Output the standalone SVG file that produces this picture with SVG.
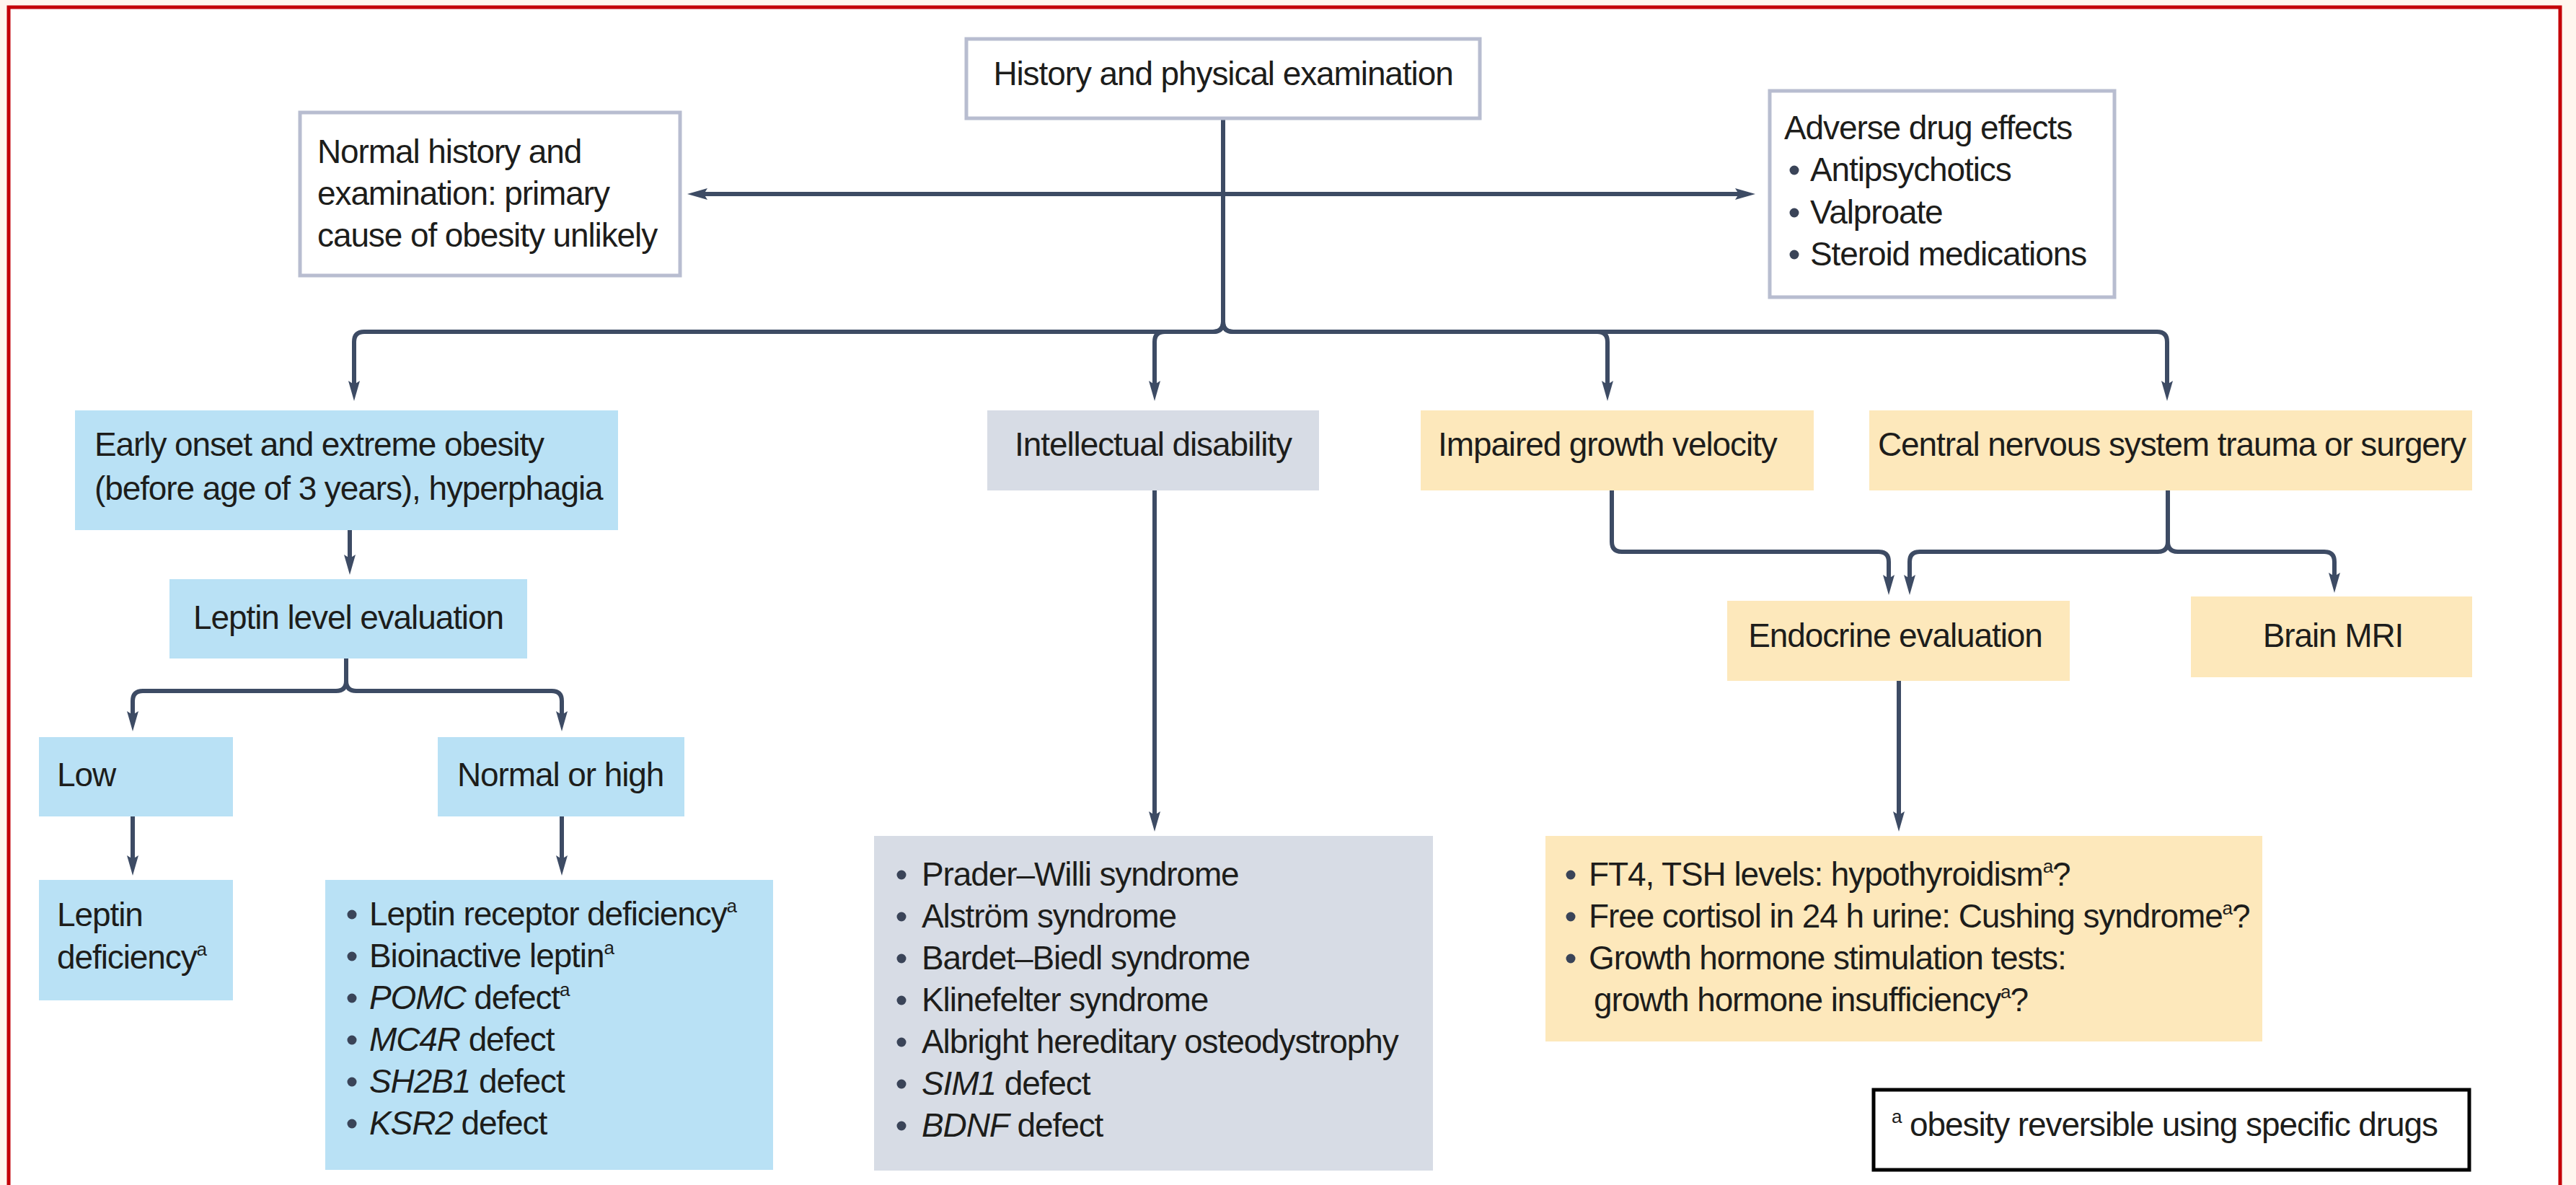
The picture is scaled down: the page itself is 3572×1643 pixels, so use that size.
<svg xmlns="http://www.w3.org/2000/svg" width="3572" height="1643" viewBox="0 0 3572 1643">
  <style>
    .t { font-family: "Liberation Sans", Arial, sans-serif; font-size: 46px; letter-spacing: -1.1px; fill: #1d1d1b; }
    .c { text-anchor: middle; }
    .i { font-style: italic; }
    .sup { font-size: 26px; }
    .plain { fill: #ffffff; stroke: #b8bdd0; stroke-width: 5; }
    .blue { fill: #b9e1f5; }
    .grey { fill: #d7dce5; }
    .amber { fill: #fde8bb; }
    .legend { fill: #ffffff; stroke: #000000; stroke-width: 5; }
    .dot { fill: #3a4458; }
    .link { fill: none; stroke: #3d4b64; stroke-width: 6; marker-end: url(#ah); }
    .link.two { marker-start: url(#ah); }
    .trunk { fill: none; stroke: #3d4b64; stroke-width: 6; }
  </style>
  <defs>
    <marker id="ah" markerUnits="userSpaceOnUse" viewBox="0 0 28 18" refX="8" refY="9" markerWidth="28" markerHeight="18" orient="auto-start-reverse">
      <path d="M0,1 L28,9 L0,17 L5,9 Z" fill="#3d4b64"/>
    </marker>
  </defs>

  <!-- page and frame -->
  <rect x="0" y="0" width="3572" height="1643" fill="#fff6ef"/>
  <rect x="12" y="10" width="3538" height="1700" fill="#ffffff" stroke="#c40008" stroke-width="5"/>

  <!-- connectors -->
  <g id="connectors">
    <path class="trunk" d="M1696,164 V446"/>
    <path class="link two" d="M973,269 H2414"/>
    <path class="link" d="M1696,446 Q1696,460 1682,460 H505 Q491,460 491,474 V536"/>
    <path class="link" d="M1696,446 Q1696,460 1682,460 H1615 Q1601,460 1601,474 V536"/>
    <path class="link" d="M1696,446 Q1696,460 1710,460 H2215 Q2229,460 2229,474 V536"/>
    <path class="link" d="M1696,446 Q1696,460 1710,460 H2991 Q3005,460 3005,474 V536"/>
    <path class="link" d="M485,735 V777"/>
    <path class="link" d="M480,913 V944 Q480,958 466,958 H198 Q184,958 184,972 V994"/>
    <path class="link" d="M480,944 Q480,958 494,958 H765 Q779,958 779,972 V994"/>
    <path class="link" d="M184,1132 V1194"/>
    <path class="link" d="M779,1132 V1194"/>
    <path class="link" d="M1601,680 V1133"/>
    <path class="link" d="M2235,680 V751 Q2235,765 2249,765 H2605 Q2619,765 2619,779 V805"/>
    <path class="link" d="M3006,680 V751 Q3006,765 2992,765 H2662 Q2648,765 2648,779 V805"/>
    <path class="link" d="M3006,751 Q3006,765 3020,765 H3223 Q3237,765 3237,779 V802"/>
    <path class="link" d="M2633,944 V1133"/>
  </g>

  <g id="history">
    <rect class="plain" x="1340" y="54" width="712" height="110"/>
    <text class="t c" x="1696" y="118">History and physical examination</text>
  </g>

  <g id="normal-history">
    <rect class="plain" x="416" y="156" width="527" height="226"/>
    <text class="t" x="440" y="226">Normal history and</text>
    <text class="t" x="440" y="284">examination: primary</text>
    <text class="t" x="440" y="342">cause of obesity unlikely</text>
  </g>

  <g id="adverse-drugs">
    <rect class="plain" x="2454" y="126" width="478" height="286"/>
    <text class="t" x="2474" y="193">Adverse drug effects</text>
    <circle class="dot" cx="2488" cy="236" r="6.5"/>
    <text class="t" x="2510" y="251">Antipsychotics</text>
    <circle class="dot" cx="2488" cy="295" r="6.5"/>
    <text class="t" x="2510" y="310">Valproate</text>
    <circle class="dot" cx="2488" cy="353" r="6.5"/>
    <text class="t" x="2510" y="368">Steroid medications</text>
  </g>

  <g id="early-onset">
    <rect class="blue" x="104" y="569" width="753" height="166"/>
    <text class="t" x="131" y="632">Early onset and extreme obesity</text>
    <text class="t" x="131" y="693">(before age of 3 years), hyperphagia</text>
  </g>

  <g id="intellectual">
    <rect class="grey" x="1369" y="569" width="460" height="111"/>
    <text class="t c" x="1599" y="632">Intellectual disability</text>
  </g>

  <g id="growth">
    <rect class="amber" x="1970" y="569" width="545" height="111"/>
    <text class="t" x="1994" y="632">Impaired growth velocity</text>
  </g>

  <g id="cns">
    <rect class="amber" x="2592" y="569" width="836" height="111"/>
    <text class="t" x="2604" y="632">Central nervous system trauma or surgery</text>
  </g>

  <g id="leptin-level">
    <rect class="blue" x="235" y="803" width="496" height="110"/>
    <text class="t c" x="483" y="872">Leptin level evaluation</text>
  </g>

  <g id="endocrine">
    <rect class="amber" x="2395" y="833" width="475" height="111"/>
    <text class="t c" x="2628" y="897">Endocrine evaluation</text>
  </g>

  <g id="brain-mri">
    <rect class="amber" x="3038" y="827" width="390" height="112"/>
    <text class="t c" x="3235" y="897">Brain MRI</text>
  </g>

  <g id="low">
    <rect class="blue" x="54" y="1022" width="269" height="110"/>
    <text class="t" x="79" y="1090">Low</text>
  </g>

  <g id="normal-high">
    <rect class="blue" x="607" y="1022" width="342" height="110"/>
    <text class="t" x="634" y="1090">Normal or high</text>
  </g>

  <g id="leptin-deficiency">
    <rect class="blue" x="54" y="1220" width="269" height="167"/>
    <text class="t" x="79" y="1284">Leptin</text>
    <text class="t" x="79" y="1343">deficiency<tspan class="sup" dy="-18">a</tspan></text>
  </g>

  <g id="receptor-list">
    <rect class="blue" x="451" y="1220" width="621" height="402"/>
    <circle class="dot" cx="488" cy="1268" r="6.5"/>
    <text class="t" x="512" y="1283">Leptin receptor deficiency<tspan class="sup" dy="-18">a</tspan></text>
    <circle class="dot" cx="488" cy="1326" r="6.5"/>
    <text class="t" x="512" y="1341">Bioinactive leptin<tspan class="sup" dy="-18">a</tspan></text>
    <circle class="dot" cx="488" cy="1384" r="6.5"/>
    <text class="t" x="512" y="1399"><tspan class="i">POMC</tspan> defect<tspan class="sup" dy="-18">a</tspan></text>
    <circle class="dot" cx="488" cy="1442" r="6.5"/>
    <text class="t" x="512" y="1457"><tspan class="i">MC4R</tspan> defect</text>
    <circle class="dot" cx="488" cy="1500" r="6.5"/>
    <text class="t" x="512" y="1515"><tspan class="i">SH2B1</tspan> defect</text>
    <circle class="dot" cx="488" cy="1558" r="6.5"/>
    <text class="t" x="512" y="1573"><tspan class="i">KSR2</tspan> defect</text>
  </g>

  <g id="syndrome-list">
    <rect class="grey" x="1212" y="1159" width="775" height="464"/>
    <circle class="dot" cx="1250" cy="1213" r="6.5"/>
    <text class="t" x="1278" y="1228">Prader–Willi syndrome</text>
    <circle class="dot" cx="1250" cy="1271" r="6.5"/>
    <text class="t" x="1278" y="1286">Alström syndrome</text>
    <circle class="dot" cx="1250" cy="1329" r="6.5"/>
    <text class="t" x="1278" y="1344">Bardet–Biedl syndrome</text>
    <circle class="dot" cx="1250" cy="1387" r="6.5"/>
    <text class="t" x="1278" y="1402">Klinefelter syndrome</text>
    <circle class="dot" cx="1250" cy="1445" r="6.5"/>
    <text class="t" x="1278" y="1460">Albright hereditary osteodystrophy</text>
    <circle class="dot" cx="1250" cy="1503" r="6.5"/>
    <text class="t" x="1278" y="1518"><tspan class="i">SIM1</tspan> defect</text>
    <circle class="dot" cx="1250" cy="1561" r="6.5"/>
    <text class="t" x="1278" y="1576"><tspan class="i">BDNF</tspan> defect</text>
  </g>

  <g id="endocrine-tests">
    <rect class="amber" x="2143" y="1159" width="994" height="285"/>
    <circle class="dot" cx="2178" cy="1213" r="6.5"/>
    <text class="t" x="2203" y="1228">FT4, TSH levels: hypothyroidism<tspan class="sup" dy="-18">a</tspan><tspan dy="18">?</tspan></text>
    <circle class="dot" cx="2178" cy="1271" r="6.5"/>
    <text class="t" x="2203" y="1286">Free cortisol in 24 h urine: Cushing syndrome<tspan class="sup" dy="-18">a</tspan><tspan dy="18">?</tspan></text>
    <circle class="dot" cx="2178" cy="1329" r="6.5"/>
    <text class="t" x="2203" y="1344">Growth hormone stimulation tests:</text>
    <text class="t" x="2210" y="1402">growth hormone insufficiency<tspan class="sup" dy="-18">a</tspan><tspan dy="18">?</tspan></text>
  </g>

  <g id="legend">
    <rect class="legend" x="2598" y="1511" width="826" height="111"/>
    <text class="t" x="2623" y="1575"><tspan class="sup" dy="-18">a</tspan><tspan dy="18"> obesity reversible using specific drugs</tspan></text>
  </g>
</svg>
